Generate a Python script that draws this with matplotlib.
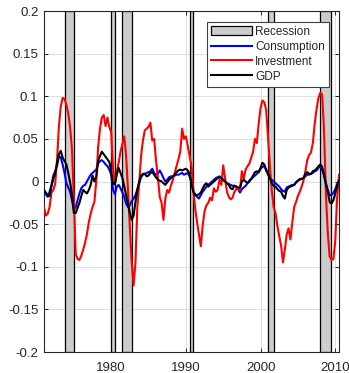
import matplotlib
matplotlib.use('Agg')
import matplotlib.pyplot as plt
import numpy as np
from matplotlib.patches import Patch
from matplotlib.lines import Line2D

plt.rcParams['font.family'] = ['Liberation Sans', 'DejaVu Sans']

# quarterly cyclical components, 1971Q1 .. 2010Q3
dates = np.arange(1971.0, 2010.75, 0.25)

investment = [
    -0.030, -0.040, -0.038, -0.030, -0.013, -0.010, -0.003, 0.025, 0.065, 0.088,
    0.098, 0.097, 0.090, 0.080, 0.064, 0.038, -0.020, -0.085, -0.091, -0.092,
    -0.087, -0.080, -0.072, -0.062, -0.048, -0.038, -0.030, -0.024, 0.000, 0.040,
    0.062, 0.075, 0.078, 0.065, 0.075, 0.064, 0.058, 0.015, -0.002, 0.012,
    0.022, 0.035, 0.044, 0.053, 0.030, -0.010, -0.055, -0.095, -0.122, -0.095,
    -0.030, -0.003, 0.030, 0.048, 0.060, 0.062, 0.064, 0.069, 0.048, 0.050,
    0.025, 0.005, -0.018, -0.025, -0.045, -0.020, -0.010, -0.013, -0.005, 0.002,
    0.010, 0.018, 0.026, 0.035, 0.062, 0.050, 0.053, 0.042, 0.030, 0.018,
    -0.010, -0.032, -0.048, -0.062, -0.076, -0.052, -0.035, -0.028, -0.025, -0.019,
    -0.022, -0.008, -0.012, -0.010, 0.002, -0.004, 0.019, 0.004, -0.012, -0.018,
    -0.021, -0.019, -0.012, -0.009, -0.008, -0.010, 0.012, 0.003, 0.014, 0.018,
    0.021, 0.028, 0.035, 0.050, 0.045, 0.068, 0.086, 0.095, 0.093, 0.084,
    0.052, 0.018, -0.010, -0.030, -0.037, -0.052, -0.064, -0.075, -0.095, -0.080,
    -0.062, -0.055, -0.068, -0.048, -0.030, -0.024, -0.017, -0.012, -0.006, 0.001,
    0.012, 0.025, 0.031, 0.034, 0.045, 0.068, 0.085, 0.098, 0.104, 0.102,
    0.060, -0.015, -0.060, -0.088, -0.092, -0.091, -0.070, -0.020, 0.008,
]

consumption = [
    -0.012, -0.015, -0.018, -0.012, -0.004, 0.007, 0.012, 0.018, 0.030, 0.028,
    0.020, 0.010, -0.002, -0.007, -0.012, -0.022, -0.033, -0.030, -0.022, -0.014,
    -0.008, -0.005, -0.004, 0.000, 0.004, 0.008, 0.010, 0.012, 0.014, 0.021,
    0.024, 0.025, 0.023, 0.020, 0.018, 0.014, 0.008, -0.010, -0.015, -0.006,
    -0.004, -0.008, -0.013, -0.018, -0.026, -0.030, -0.028, -0.023, -0.020, -0.016,
    -0.009, -0.002, 0.005, 0.008, 0.009, 0.010, 0.011, 0.012, 0.015, 0.010,
    0.008, 0.009, 0.013, 0.009, 0.004, 0.000, 0.002, 0.005, 0.006, 0.006,
    0.007, 0.008, 0.008, 0.009, 0.010, 0.008, 0.009, 0.010, 0.006, -0.002,
    -0.012, -0.015, -0.018, -0.020, -0.016, -0.012, -0.009, -0.006, -0.004, -0.002,
    0.000, 0.002, 0.004, 0.005, 0.006, 0.004, 0.002, 0.000, -0.002, -0.003,
    -0.004, -0.005, -0.005, -0.006, -0.009, -0.013, -0.009, -0.007, -0.005, -0.002,
    0.000, 0.003, 0.005, 0.007, 0.009, 0.011, 0.015, 0.017, 0.018, 0.014,
    0.008, 0.004, 0.002, 0.000, -0.002, -0.004, -0.006, -0.009, -0.011, -0.012,
    -0.007, -0.006, -0.005, -0.004, -0.004, -0.001, 0.001, 0.002, 0.003, 0.004,
    0.006, 0.008, 0.008, 0.009, 0.010, 0.012, 0.013, 0.016, 0.018, 0.013,
    0.007, -0.002, -0.010, -0.016, -0.016, -0.013, -0.009, -0.003, 0.001,
]

gdp = [
    -0.010, -0.013, -0.016, -0.017, -0.006, 0.003, 0.010, 0.022, 0.032, 0.036,
    0.028, 0.024, 0.020, 0.010, -0.001, -0.015, -0.037, -0.037, -0.031, -0.025,
    -0.017, -0.010, -0.012, -0.014, -0.010, -0.004, 0.007, 0.000, 0.006, 0.024,
    0.030, 0.035, 0.032, 0.029, 0.026, 0.023, 0.012, -0.003, -0.003, 0.008,
    0.016, 0.010, 0.004, -0.006, -0.016, -0.026, -0.037, -0.045, -0.040, -0.024,
    -0.010, 0.000, 0.007, 0.009, 0.009, 0.006, 0.007, 0.010, 0.011, 0.008,
    0.005, 0.002, 0.001, 0.000, -0.002, -0.004, -0.001, 0.002, 0.004, 0.006,
    0.008, 0.011, 0.013, 0.014, 0.013, 0.014, 0.015, 0.013, 0.009, -0.002,
    -0.012, -0.016, -0.016, -0.015, -0.013, -0.008, -0.004, -0.002, -0.006, -0.004,
    -0.002, 0.000, 0.002, 0.004, 0.005, 0.004, 0.002, 0.000, -0.002, -0.004,
    -0.008, -0.009, -0.005, -0.006, -0.007, -0.007, 0.000, 0.002, 0.000, -0.002,
    0.001, 0.003, 0.007, 0.011, 0.012, 0.011, 0.016, 0.022, 0.020, 0.013,
    0.010, 0.004, -0.002, -0.005, -0.006, -0.009, -0.011, -0.012, -0.017, -0.020,
    -0.010, -0.007, -0.006, -0.005, -0.004, -0.001, 0.001, 0.003, 0.003, 0.004,
    0.009, 0.011, 0.009, 0.009, 0.012, 0.013, 0.015, 0.018, 0.020, 0.017,
    0.008, -0.003, -0.012, -0.024, -0.026, -0.022, -0.014, -0.005, 0.001,
]

rec_start = [1973.75, 1980.0, 1981.5, 1990.5, 2001.0, 2007.9]
rec_end = [1975.0, 1980.5, 1982.75, 1991.0, 2001.85, 2009.4]

yticks = [-0.2, -0.15, -0.1, -0.05, 0, 0.05, 0.1, 0.15, 0.2]
ytick_labels = ['-0.2', '-0.15', '-0.1', '-0.05', '0', '0.05', '0.1', '0.15', '0.2']
xticks = [1980, 1990, 2000, 2010]

txt = '#262626'

fig = plt.figure(figsize=(3.49, 3.73), dpi=100)
ax = fig.add_axes([0.126, 0.0563, 0.8453, 0.9142])

for a, b in zip(rec_start, rec_end):
    ax.axvspan(a, b, facecolor='#cccccc', edgecolor='k', lw=0.9, zorder=1)

ax.plot(dates, consumption, color='b', lw=1.5, zorder=3)
ax.plot(dates, investment, color='r', lw=1.5, zorder=3)
ax.plot(dates, gdp, color='k', lw=1.5, zorder=4)

ax.set_xlim(dates[0], dates[-1])
ax.set_ylim(-0.2, 0.2)
ax.set_yticks(yticks)
ax.set_yticklabels(ytick_labels)
ax.set_xticks(xticks)

ax.grid(True, color='#dedede', lw=0.7, zorder=0)
ax.set_axisbelow(True)
ax.tick_params(axis='both', direction='in', length=3, width=0.7, colors=txt,
               labelsize=9.5, top=True, right=True)
ax.tick_params(axis='x', pad=7)
ax.tick_params(axis='y', pad=4)
for s in ax.spines.values():
    s.set_color(txt)
    s.set_linewidth(0.8)

handles = [
    Patch(facecolor='#cccccc', edgecolor='k', lw=0.9),
    Line2D([], [], color='b', lw=1.5),
    Line2D([], [], color='r', lw=1.5),
    Line2D([], [], color='k', lw=1.5),
]
leg = ax.legend(handles, ['Recession', 'Consumption', 'Investment', 'GDP'],
                loc='upper right', bbox_to_anchor=(0.966, 0.969), borderaxespad=0,
                fontsize=8.5, handlelength=3.4, handletextpad=0.3, labelspacing=0.25,
                borderpad=0.35, fancybox=False, framealpha=1, edgecolor='#404040')
leg.get_frame().set_linewidth(0.8)
for t in leg.get_texts():
    t.set_color(txt)

fig.savefig('out.png', dpi=100)
